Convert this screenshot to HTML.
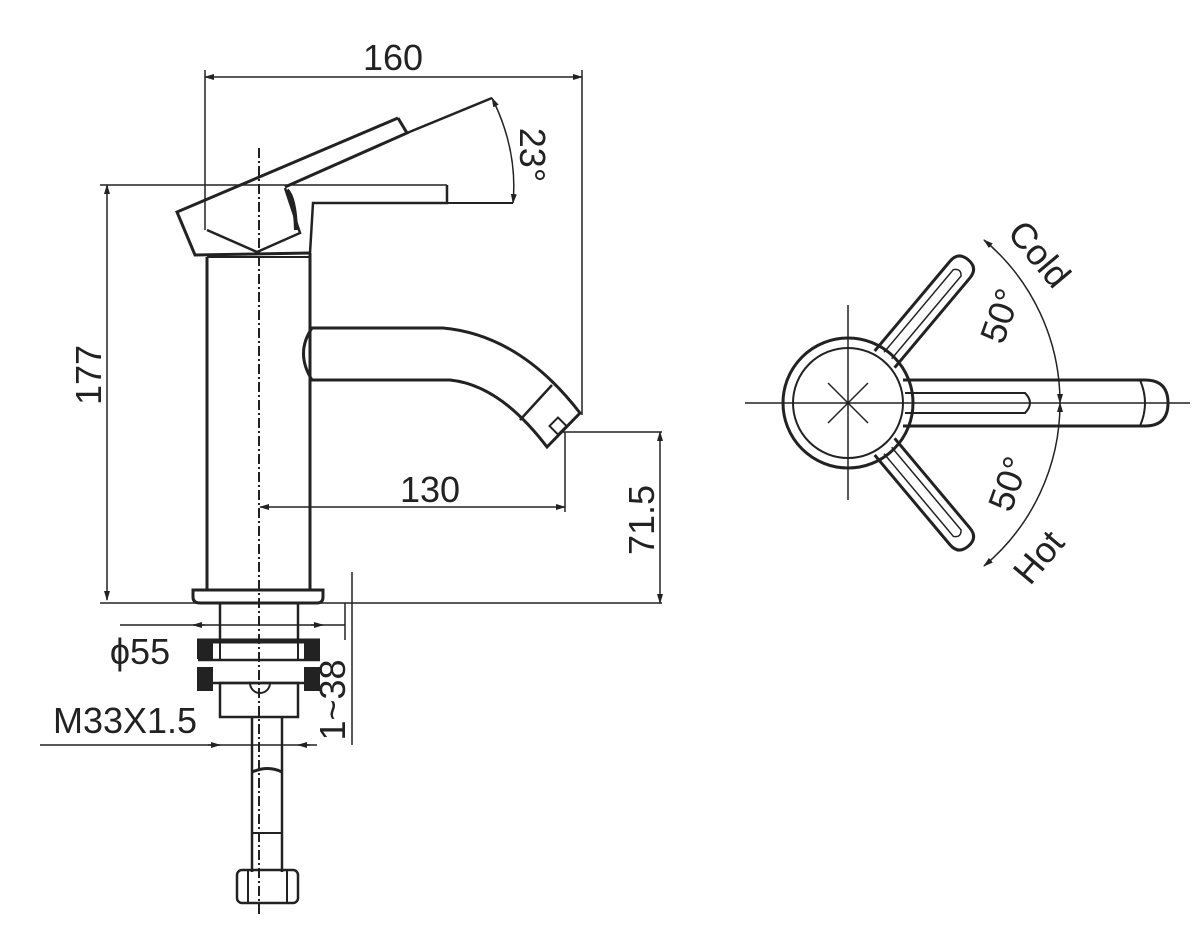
<!DOCTYPE html>
<html><head><style>
html,body{margin:0;padding:0;background:#fff;}
svg{display:block;}
text{font-family:"Liberation Sans","DejaVu Sans",sans-serif;fill:#222;}
</style></head><body>
<svg width="1197" height="932" viewBox="0 0 1197 932" xmlns="http://www.w3.org/2000/svg">
<defs>
<marker id="a" markerWidth="10" markerHeight="8" refX="9" refY="4" orient="auto-start-reverse" markerUnits="userSpaceOnUse"><path d="M0,1 L10,4 L0,7 z" fill="#222"/></marker>
</defs>
<g stroke="#222" fill="none" stroke-width="2">
<line x1="205" y1="77" x2="582" y2="77" marker-start="url(#a)" marker-end="url(#a)" stroke-width="1.5"/>
<line x1="205" y1="70" x2="205" y2="230" stroke-width="1.5"/>
<line x1="582" y1="70" x2="582" y2="415" stroke-width="1.5"/>
<line x1="107" y1="185" x2="107" y2="600" marker-start="url(#a)" marker-end="url(#a)" stroke-width="1.5"/>
<line x1="100" y1="185" x2="447" y2="185" stroke-width="1.5"/>
<line x1="100" y1="603" x2="662" y2="603" stroke-width="1.5"/>
<polyline points="398,118 177,212 195,255 310,253" stroke-width="3"/>
<polyline points="398,118 407,133 285,187" stroke-width="3"/>
<line x1="407" y1="133" x2="492" y2="98" stroke-width="2.5"/>
<polyline points="207,230 257,252 300,233 285,188" stroke-width="2.5"/>
<path d="M287,190 q8,8 9,40" stroke-width="4"/>
<polyline points="447,185 447,203 313,203 310,253" stroke-width="2.5"/>
<line x1="447" y1="203" x2="513" y2="203" stroke-width="2"/>
<path d="M492,98 Q518,150 513,203" stroke-width="1.5" marker-start="url(#a)" marker-end="url(#a)"/>
<line x1="207" y1="257" x2="207" y2="590" stroke-width="3"/>
<line x1="310" y1="253" x2="310" y2="590" stroke-width="3"/>
<line x1="207" y1="257" x2="310" y2="257" stroke-width="2"/>
<path d="M310,328 L443,328 Q520,335 580,413 L547,447 Q500,385 450,380 L310,380" stroke-width="3"/>
<path d="M312,328 Q295,353 312,380" stroke-width="3"/>
<line x1="520" y1="420" x2="552" y2="385" stroke-width="2.5"/>
<rect x="552" y="420" width="12" height="12" transform="rotate(-45 558 426)" stroke-width="2"/>
<line x1="563" y1="432" x2="662" y2="432" stroke-width="1.5"/>
<line x1="565" y1="432" x2="565" y2="512" stroke-width="1.5"/>
<line x1="260" y1="507" x2="565" y2="507" marker-start="url(#a)" marker-end="url(#a)" stroke-width="1.5"/>
<line x1="660" y1="432" x2="660" y2="603" marker-start="url(#a)" marker-end="url(#a)" stroke-width="1.5"/>
<path d="M193,590 L193,597 Q193,603 200,603 L317,603 Q323,603 323,597 L323,590 Z" stroke-width="3"/>
<line x1="220" y1="603" x2="220" y2="643" stroke-width="2.5"/>
<line x1="298" y1="603" x2="298" y2="643" stroke-width="2.5"/>
<line x1="120" y1="625" x2="345" y2="625" stroke-width="1.5"/>
<line x1="193" y1="625" x2="205" y2="625" marker-start="url(#a)" stroke-width="1.5"/>
<line x1="311" y1="625" x2="323" y2="625" marker-end="url(#a)" stroke-width="1.5"/>
<line x1="345" y1="603" x2="345" y2="640" stroke-width="1.5"/>
<line x1="197" y1="641" x2="320" y2="641" stroke-width="5"/>
<rect x="198" y="643" width="14" height="15" fill="#222"/>
<rect x="305" y="643" width="14" height="15" fill="#222"/>
<rect x="198" y="668" width="14" height="22" fill="#222"/>
<rect x="305" y="668" width="14" height="22" fill="#222"/>
<line x1="198" y1="660" x2="320" y2="660" stroke-width="2.5"/>
<line x1="220" y1="643" x2="220" y2="660" stroke-width="2"/>
<line x1="298" y1="643" x2="298" y2="660" stroke-width="2"/>
<line x1="212" y1="683" x2="305" y2="683" stroke-width="2.5"/>
<rect x="220" y="683" width="78" height="34" stroke-width="2.5"/>
<path d="M250,683 a10,10 0 0 0 20,0" stroke-width="2"/>
<line x1="352" y1="572" x2="352" y2="745" stroke-width="1.5"/>
<line x1="40" y1="745" x2="317" y2="745" stroke-width="1.5"/>
<line x1="208" y1="745" x2="220" y2="745" marker-end="url(#a)" stroke-width="1.5"/>
<line x1="310" y1="745" x2="298" y2="745" marker-end="url(#a)" stroke-width="1.5"/>
<line x1="252" y1="717" x2="252" y2="872" stroke-width="2.5"/>
<line x1="282" y1="717" x2="282" y2="872" stroke-width="2.5"/>
<path d="M252,772 Q268,765 282,772" stroke-width="3"/>
<line x1="252" y1="833" x2="282" y2="833" stroke-width="2"/>
<rect x="237" y="870" width="61" height="33" rx="5" stroke-width="2.5"/>
<line x1="248" y1="870" x2="248" y2="903" stroke-width="2"/>
<line x1="287" y1="870" x2="287" y2="903" stroke-width="2"/>
<line x1="259" y1="148" x2="259" y2="915" stroke-width="2" stroke-dasharray="10,3,2,3"/>

<line x1="745" y1="403" x2="1190" y2="403" stroke-width="1.5"/>
<line x1="848" y1="305" x2="848" y2="500" stroke-width="1.5"/>
<circle cx="848" cy="403" r="65" stroke-width="3"/>
<circle cx="848" cy="403" r="55" stroke-width="2"/>
<line x1="828" y1="383" x2="868" y2="423" stroke-width="1.5"/>
<line x1="828" y1="423" x2="868" y2="383" stroke-width="1.5"/>
<path d="M903,380 L1145,380 Q1168,380 1168,403 Q1168,426 1145,426 L903,426" stroke-width="3"/>
<path d="M1140,380 Q1150,403 1140,426" stroke-width="2"/>
<path d="M905,393 L1025,393 Q1035,403 1025,413 L905,413" stroke-width="2"/>
<g transform="rotate(-50 848 403)">
<path d="M905,390 L1022,390 Q1035,390 1035,403 Q1035,416 1022,416 L905,416" stroke-width="3"/>
<path d="M910,398 L1018,398 Q1024,403 1018,408 L910,408" stroke-width="1.5"/>
</g>
<g transform="rotate(50 848 403)">
<path d="M905,390 L1022,390 Q1035,390 1035,403 Q1035,416 1022,416 L905,416" stroke-width="3"/>
<path d="M910,398 L1018,398 Q1024,403 1018,408 L910,408" stroke-width="1.5"/>
</g>
<path d="M984,240 A212,212 0 0 1 1060,403" stroke-width="1.5" marker-start="url(#a)" marker-end="url(#a)"/>
<path d="M1060,403 A212,212 0 0 1 984,566" stroke-width="1.5" marker-start="url(#a)" marker-end="url(#a)"/>
</g>
<g font-size="36">
<text x="393" y="70" text-anchor="middle">160</text>
<text x="430" y="502" text-anchor="middle">130</text>
<text x="140" y="664" text-anchor="middle">ϕ55</text>
<text x="125" y="733" text-anchor="middle">M33X1.5</text>
<text transform="translate(101,375) rotate(-90)" text-anchor="middle">177</text>
<text transform="translate(654,520) rotate(-90)" text-anchor="middle">71.5</text>
<text transform="translate(345,700) rotate(-90)" text-anchor="middle">1~38</text>
<text transform="translate(520,155) rotate(90)" text-anchor="middle">23°</text>
<text transform="translate(1030,262) rotate(50)" text-anchor="middle">Cold</text>
<text transform="translate(1012,320) rotate(-70)" text-anchor="middle">50°</text>
<text transform="translate(1020,488) rotate(-70)" text-anchor="middle">50°</text>
<text transform="translate(1048,565) rotate(-50)" text-anchor="middle">Hot</text>
</g>
</svg>
</body></html>
